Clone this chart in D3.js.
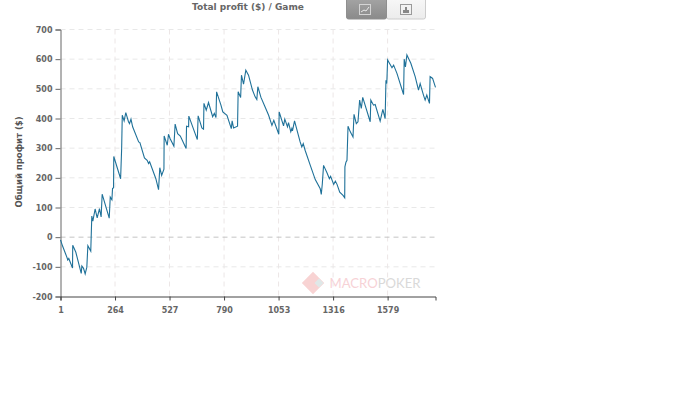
<!DOCTYPE html>
<html lang="en">
  <head>
    <meta charset="UTF-8" />
    <title>Total profit ($) / Game</title>
    <script src="https://d3js.org/d3.v7.min.js"></script>
    <style>
      body {
        margin: 0;
        background: #fff;
        overflow: hidden;
      }
      text {
        font-family: "DejaVu Sans", sans-serif;
      }
      .axis text {
        font-size: 8px;
        font-weight: bold;
        fill: #666;
      }
    </style>
  </head>
  <body>
    <svg id="chart" width="700" height="393"></svg>

    <script>
      // values
      var games = [
        1, 11, 32, 36, 41, 59, 60, 75, 101, 104, 112, 120, 128, 133, 147, 152, 157, 168, 178, 189,
        197, 202, 236, 241, 249, 252, 257, 258, 291, 296, 299, 308, 316, 329, 334, 341, 349, 378,
        384, 406, 419, 426, 431, 461, 474, 480, 489, 500, 501, 516, 522, 530, 548, 554, 566, 579,
        607, 609, 619, 620, 661, 665, 683, 691, 693, 704, 715, 735, 743, 751, 754, 775, 784, 804,
        825, 829, 836, 855, 858, 870, 874, 884, 895, 908, 927, 940, 948, 953, 968, 988, 1005, 1021,
        1030, 1054, 1056, 1077, 1083, 1096, 1101, 1112, 1117, 1120, 1130, 1157, 1165, 1172, 1181,
        1206, 1230, 1254, 1259, 1264, 1270, 1287, 1298, 1304, 1319, 1327, 1335, 1348, 1364, 1372,
        1373, 1378, 1383, 1388, 1399, 1412, 1417, 1428, 1436, 1444, 1452, 1459, 1495, 1498, 1511,
        1519, 1543, 1556, 1567, 1571, 1575, 1579, 1600, 1608, 1624, 1656, 1659, 1665, 1672, 1691,
        1712, 1728, 1736, 1752, 1760, 1768, 1781, 1784, 1796, 1810
      ];
      var profits = [
        -9, -30, -68, -77, -72, -104, -27, -51, -122, -97, -105, -124, -101, -29, -47, 71, 54, 95,
        65, 96, 68, 145, 64, 135, 126, 164, 167, 272, 197, 299, 411, 392, 420, 389, 383, 398, 372,
        321, 319, 267, 259, 248, 254, 197, 160, 234, 208, 229, 341, 310, 347, 332, 307, 381, 349,
        341, 299, 374, 372, 408, 329, 409, 368, 364, 451, 428, 454, 406, 417, 403, 490, 445, 422,
        411, 366, 392, 368, 374, 490, 471, 546, 516, 563, 546, 496, 473, 464, 507, 471, 439, 411,
        377, 394, 347, 422, 375, 398, 372, 386, 355, 366, 358, 392, 321, 304, 315, 293, 242, 194,
        163, 144, 180, 242, 216, 197, 205, 178, 189, 178, 152, 141, 133, 237, 253, 259, 374, 355,
        338, 414, 383, 389, 462, 434, 471, 389, 462, 445, 447, 391, 431, 400, 529, 518, 597, 571,
        580, 552, 481, 600, 574, 614, 586, 541, 496, 518, 479, 462, 479, 451, 541, 535, 505
      ];
      var xTicks = [1, 264, 527, 790, 1053, 1316, 1579];
      var yTicks = [-200, -100, 0, 100, 200, 300, 400, 500, 600, 700];

      var svg = d3.select("#chart");

      var x = d3.scaleLinear().domain([1, 1810]).range([60.5, 435.5]);
      var y = d3.scaleLinear().domain([-200, 700]).range([296.5, 29.5]);

      // watermark sits under the grid
      var mark = svg.append("g").attr("transform", "translate(313,283)");
      mark
        .append("path")
        .attr("d", d3.symbol(d3.symbolSquare, 250))
        .attr("transform", "rotate(45)")
        .attr("fill", "#f8d3d3");
      mark
        .append("path")
        .attr("d", d3.symbol(d3.symbolSquare, 40))
        .attr("transform", "translate(6,0) rotate(45)")
        .attr("fill", "#dfe8e8");
      var wm = svg
        .append("text")
        .attr("x", 329.5)
        .attr("y", 288)
        .attr("textLength", 91)
        .attr("lengthAdjust", "spacingAndGlyphs")
        .style("font-family", "Lato, sans-serif")
        .style("font-size", "14px");
      wm.append("tspan").attr("fill", "#f7d2d6").text("MACRO");
      wm.append("tspan").attr("fill", "#d9d9d9").text("POKER");

      // grid
      svg
        .selectAll("line.vgrid")
        .data(xTicks.slice(1))
        .enter()
        .append("line")
        .attr("class", "vgrid")
        .attr("x1", function (d) {
          return x(d);
        })
        .attr("x2", function (d) {
          return x(d);
        })
        .attr("y1", y(700))
        .attr("y2", y(-200))
        .attr("stroke", "#ece6e6")
        .attr("stroke-dasharray", "5,4");

      svg
        .selectAll("line.hgrid")
        .data(yTicks.slice(1))
        .enter()
        .append("line")
        .attr("class", "hgrid")
        .attr("x1", x(1))
        .attr("x2", x(1810))
        .attr("y1", function (d) {
          return y(d);
        })
        .attr("y2", function (d) {
          return y(d);
        })
        .attr("stroke", function (d) {
          return d === 0 ? "#c4c4c4" : "#e8e8e8";
        })
        .attr("stroke-dasharray", "5,4");

      // axes
      var yAxis = svg
        .append("g")
        .attr("class", "axis")
        .attr("transform", "translate(60.5,0)")
        .call(d3.axisLeft(y).tickValues(yTicks).tickSize(5).tickPadding(3).tickFormat(function (d) {
          return d < 0 ? "-" + Math.abs(d) : d;
        }));
      yAxis.selectAll(".domain, line").attr("stroke", "#666").attr("stroke-width", 1);

      var xAxis = svg
        .append("g")
        .attr("class", "axis")
        .attr("transform", "translate(0,296.5)")
        .call(d3.axisBottom(x).tickValues(xTicks).tickSize(4).tickPadding(7).tickFormat(d3.format("d")));
      xAxis.selectAll(".domain, line").attr("stroke", "#444").attr("stroke-width", 1);

      // profit line
      var line = d3
        .line()
        .x(function (d, i) {
          return x(games[i]);
        })
        .y(function (d) {
          return y(d);
        });

      svg
        .append("path")
        .datum(profits)
        .attr("d", line)
        .attr("fill", "none")
        .attr("stroke", "#1f7199")
        .attr("stroke-width", 1.1);

      // titles
      svg
        .append("text")
        .attr("x", 248)
        .attr("y", 9.5)
        .attr("text-anchor", "middle")
        .attr("fill", "#666")
        .style("font-size", "9px")
        .style("font-weight", "bold")
        .text("Total profit ($) / Game");

      svg
        .append("text")
        .attr("transform", "translate(22,162) rotate(-90)")
        .attr("text-anchor", "middle")
        .attr("fill", "#555")
        .style("font-size", "8.5px")
        .style("font-weight", "bold")
        .text("Общий профит ($)");

      // chart type switch, top right
      var defs = svg.append("defs");
      var onGrad = defs
        .append("linearGradient")
        .attr("id", "btn-on")
        .attr("x1", 0)
        .attr("y1", 0)
        .attr("x2", 0)
        .attr("y2", 1);
      onGrad.append("stop").attr("offset", "0%").attr("stop-color", "#a6a6a6");
      onGrad.append("stop").attr("offset", "100%").attr("stop-color", "#8a8a8a");
      var offGrad = defs
        .append("linearGradient")
        .attr("id", "btn-off")
        .attr("x1", 0)
        .attr("y1", 0)
        .attr("x2", 0)
        .attr("y2", 1);
      offGrad.append("stop").attr("offset", "0%").attr("stop-color", "#f8f8f8");
      offGrad.append("stop").attr("offset", "100%").attr("stop-color", "#ececec");

      svg
        .append("rect")
        .attr("x", 386.5)
        .attr("y", -3)
        .attr("width", 39)
        .attr("height", 22)
        .attr("rx", 2)
        .attr("fill", "url(#btn-off)")
        .attr("stroke", "#ccc");
      svg
        .append("rect")
        .attr("x", 346.5)
        .attr("y", -3)
        .attr("width", 40)
        .attr("height", 22)
        .attr("rx", 2)
        .attr("fill", "url(#btn-on)")
        .attr("stroke", "#8f8f8f");

      svg
        .append("rect")
        .attr("x", 359.5)
        .attr("y", 4.5)
        .attr("width", 11)
        .attr("height", 10)
        .attr("fill", "none")
        .attr("stroke", "#d4d4d4");
      svg
        .append("path")
        .attr("d", "M361,12L364,10L366,11L369,7")
        .attr("fill", "none")
        .attr("stroke", "#e8e8e8");

      svg
        .append("rect")
        .attr("x", 400.5)
        .attr("y", 4.5)
        .attr("width", 11)
        .attr("height", 10)
        .attr("fill", "none")
        .attr("stroke", "#9a9a9a");
      svg
        .append("path")
        .attr("d", "M403,13V10H405V7H407V10H409V13Z")
        .attr("fill", "#888");
    </script>
  </body>
</html>
